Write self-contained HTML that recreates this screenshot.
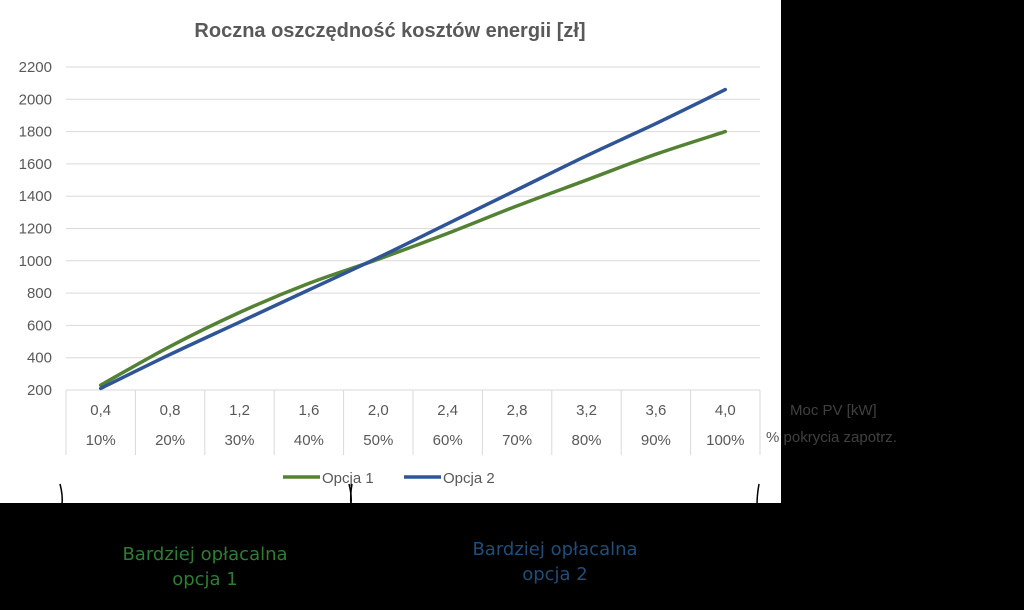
<!DOCTYPE html>
<html><head><meta charset="utf-8"><style>
body{margin:0;background:#000;width:1024px;height:605px;overflow:hidden;font-family:"Liberation Sans",sans-serif}
</style></head><body>
<svg width="1024" height="605" xmlns="http://www.w3.org/2000/svg" id="svg">
<rect x="0" y="0" width="781" height="503" fill="#fff"/>
<text x="390" y="37" text-anchor="middle" font-size="20" font-weight="bold" fill="#595959">Roczna oszczędność kosztów energii [zł]</text>
<g id="grid"></g><g id="cats"></g><g id="series"></g>
<g>
<line x1="283" y1="477" x2="320" y2="477" stroke="#548235" stroke-width="3.5"/>
<text x="322" y="483" font-size="15" fill="#595959">Opcja 1</text>
<line x1="404" y1="477" x2="441" y2="477" stroke="#2f5597" stroke-width="3.5"/>
<text x="443" y="483" font-size="15" fill="#595959">Opcja 2</text>
</g>
<text x="790" y="415" font-size="15" fill="#404040">Moc PV [kW]</text>
<text x="766" y="442" font-size="15" fill="#404040"><tspan fill="#595959">%</tspan> pokrycia zapotrz.</text>
<g stroke="#000" stroke-width="1.5" fill="none">
<path d="M60 484 Q63 495 62 505"/><path d="M349 484 Q352 495 351 505"/><path d="M352 484 Q350 495 351 505"/><path d="M759 484 Q757 495 757 505"/>
</g>
<g font-family="'DejaVu Sans',sans-serif" font-size="18" text-anchor="middle">
<text x="205" y="560" fill="#2e7d32"><tspan x="205">Bardziej opłacalna</tspan><tspan x="205" dy="25">opcja 1</tspan></text>
<text x="555" y="555" fill="#1f4e79"><tspan x="555">Bardziej opłacalna</tspan><tspan x="555" dy="25">opcja 2</tspan></text>
</g>
</svg>
<script>
const powerLabels=["0,4","0,8","1,2","1,6","2,0","2,4","2,8","3,2","3,6","4,0"];
const coverageLabels=["10%","20%","30%","40%","50%","60%","70%","80%","90%","100%"];
const opcja1=[230,470,680,860,1010,1170,1340,1500,1660,1800];
const opcja2=[210,420,620,820,1020,1230,1440,1650,1850,2060];
const yTicks=[200,400,600,800,1000,1200,1400,1600,1800,2000,2200];
const NS="http://www.w3.org/2000/svg";
const x0=66,x1=760,yBase=390,yTop=67,vMin=200,vMax=2200;
const bw=(x1-x0)/powerLabels.length;
const xs=i=>x0+bw*(i+0.5);
const ys=v=>yBase-(v-vMin)/(vMax-vMin)*(yBase-yTop);
function mk(t,a,p){const e=document.createElementNS(NS,t);for(const k in a)e.setAttribute(k,a[k]);p.appendChild(e);return e;}
const grid=document.getElementById('grid');
yTicks.forEach(v=>{
  const l=mk('line',{x1:x0,x2:x1,y1:ys(v),y2:ys(v),stroke:'#d9d9d9','stroke-width':1},grid);
  
  
  const t=mk('text',{x:52,y:ys(v)+5,'text-anchor':'end','font-size':15,fill:'#595959'},grid);
  t.textContent=v;
  
  
});
const cats=document.getElementById('cats');
for(let i=0;i<=powerLabels.length;i++){
  const l=mk('line',{x1:x0+bw*i,x2:x0+bw*i,y1:yBase,y2:455,stroke:'#d9d9d9','stroke-width':1},cats);
  
  
}
powerLabels.forEach((p,i)=>{
  const t=mk('text',{x:xs(i),y:415,'text-anchor':'middle','font-size':15,fill:'#595959'},cats);
  t.textContent=p;
  
  
  const t2=mk('text',{x:xs(i),y:445,'text-anchor':'middle','font-size':15,fill:'#595959'},cats);
  t2.textContent=coverageLabels[i];
  
  
});
const ser=document.getElementById('series');
function path(vals){
  const pts=vals.map((v,i)=>[xs(i),ys(v)]);
  let d='M'+pts[0][0]+' '+pts[0][1];
  for(let i=0;i<pts.length-1;i++){
    const p0=pts[Math.max(0,i-1)],p1=pts[i],p2=pts[i+1],p3=pts[Math.min(pts.length-1,i+2)];
    const c1=[p1[0]+(p2[0]-p0[0])/6,p1[1]+(p2[1]-p0[1])/6],c2=[p2[0]-(p3[0]-p1[0])/6,p2[1]-(p3[1]-p1[1])/6];
    d+=` C${c1[0]} ${c1[1]} ${c2[0]} ${c2[1]} ${p2[0]} ${p2[1]}`;
  }
  return d;
}
const l1=mk('path',{d:path(opcja1),fill:'none',stroke:'#548235','stroke-width':3.5,'stroke-linecap':'round'},ser);


const l2=mk('path',{d:path(opcja2),fill:'none',stroke:'#2f5597','stroke-width':3.5,'stroke-linecap':'round'},ser);


</script>
</body></html>
